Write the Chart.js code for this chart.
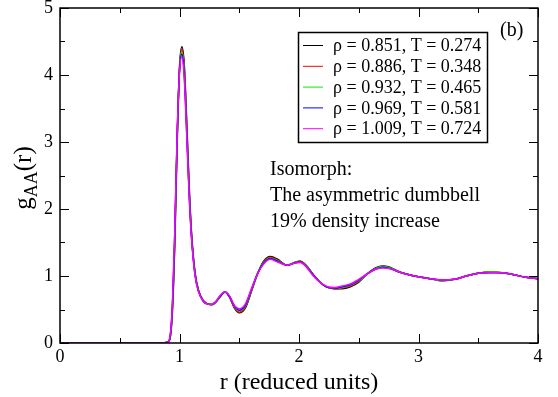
<!DOCTYPE html>
<html>
<head>
<meta charset="utf-8">
<script src="https://cdn.jsdelivr.net/npm/chart.js@4.4.0/dist/chart.umd.min.js"></script>
<style>
  html, body { margin: 0; padding: 0; background: #fff; }
  #wrap { width: 558px; height: 397px; }
</style>
</head>
<body>
<div id="wrap"><canvas id="gofr"></canvas></div>
<script>
// r grid shared by all state points
const rVals = [0, 0.85, 0.9, 0.92, 0.94, 0.96, 0.98, 1.0, 1.02, 1.04, 1.06, 1.08, 1.1, 1.13, 1.16, 1.2,
  1.24, 1.27, 1.3, 1.34, 1.38, 1.42, 1.46, 1.5, 1.55, 1.6, 1.65, 1.7, 1.76, 1.82, 1.9, 1.96, 2.01,
  2.06, 2.12, 2.18, 2.24, 2.3, 2.36, 2.43, 2.5, 2.57, 2.64, 2.7, 2.76, 2.84, 2.92, 3.0, 3.1, 3.2,
  3.3, 3.4, 3.5, 3.6, 3.7, 3.8, 3.9, 4.0];

const g851 = [0, 0, 0.01, 0.06, 0.45, 1.45, 2.95, 4.1, 4.42, 4.15, 3.32, 2.38, 1.66, 1.05, 0.78, 0.63,
  0.58, 0.57, 0.6, 0.69, 0.76, 0.68, 0.52, 0.45, 0.52, 0.76, 1.02, 1.21, 1.29, 1.25, 1.16, 1.2, 1.22,
  1.16, 1.02, 0.9, 0.83, 0.81, 0.81, 0.84, 0.91, 1.03, 1.12, 1.15, 1.13, 1.06, 1.02, 0.99, 0.96, 0.93,
  0.95, 1.0, 1.04, 1.06, 1.05, 1.02, 0.98, 0.96];
const g886 = [0, 0, 0.01, 0.07, 0.48, 1.5, 3.0, 4.1, 4.38, 4.1, 3.27, 2.34, 1.64, 1.04, 0.78, 0.63,
  0.58, 0.57, 0.6, 0.69, 0.76, 0.68, 0.53, 0.46, 0.53, 0.77, 1.02, 1.2, 1.28, 1.24, 1.16, 1.2, 1.22,
  1.15, 1.02, 0.9, 0.83, 0.81, 0.82, 0.85, 0.92, 1.03, 1.11, 1.14, 1.12, 1.06, 1.02, 0.99, 0.96, 0.93,
  0.95, 1.0, 1.04, 1.06, 1.05, 1.02, 0.98, 0.96];
const g932 = [0, 0, 0.01, 0.07, 0.5, 1.55, 3.03, 4.08, 4.34, 4.05, 3.22, 2.3, 1.62, 1.03, 0.77, 0.62,
  0.58, 0.57, 0.6, 0.7, 0.76, 0.69, 0.54, 0.48, 0.55, 0.78, 1.02, 1.19, 1.27, 1.23, 1.16, 1.2, 1.21,
  1.15, 1.01, 0.9, 0.83, 0.82, 0.83, 0.86, 0.93, 1.03, 1.11, 1.14, 1.12, 1.06, 1.02, 0.99, 0.96, 0.93,
  0.95, 1.0, 1.04, 1.06, 1.05, 1.02, 0.98, 0.96];
const g969 = [0, 0, 0.01, 0.08, 0.53, 1.6, 3.06, 4.06, 4.31, 4.0, 3.17, 2.27, 1.6, 1.02, 0.77, 0.62,
  0.58, 0.58, 0.61, 0.7, 0.76, 0.69, 0.55, 0.49, 0.56, 0.79, 1.02, 1.18, 1.26, 1.22, 1.16, 1.19, 1.21,
  1.14, 1.01, 0.9, 0.83, 0.82, 0.84, 0.87, 0.94, 1.03, 1.1, 1.13, 1.11, 1.06, 1.02, 0.99, 0.96, 0.94,
  0.95, 1.0, 1.04, 1.05, 1.05, 1.02, 0.98, 0.96];
const g1009 = [0, 0, 0.01, 0.09, 0.56, 1.65, 3.1, 4.05, 4.27, 3.95, 3.12, 2.24, 1.58, 1.01, 0.76, 0.62,
  0.58, 0.58, 0.61, 0.71, 0.76, 0.7, 0.56, 0.51, 0.58, 0.8, 1.02, 1.17, 1.25, 1.21, 1.16, 1.19, 1.2,
  1.14, 1.0, 0.9, 0.84, 0.83, 0.85, 0.88, 0.95, 1.03, 1.1, 1.12, 1.11, 1.06, 1.02, 0.99, 0.96, 0.94,
  0.95, 1.0, 1.04, 1.05, 1.05, 1.02, 0.98, 0.96];

const seriesLabels = ['ρ = 0.851, T = 0.274', 'ρ = 0.886, T = 0.348', 'ρ = 0.932, T = 0.465',
  'ρ = 0.969, T = 0.581', 'ρ = 1.009, T = 0.724'];
const seriesColors = ['#000000', '#ff0000', '#00ee00', '#0000ff', '#ff00ff'];
const seriesData = [g851, g886, g932, g969, g1009];

const xTicks = [0, 1, 2, 3, 4];
const yTicks = [0, 1, 2, 3, 4, 5];
const noteLines = ['Isomorph:', 'The asymmetric dumbbell', '19% density increase'];

const SERIF = '"Liberation Serif", "DejaVu Serif", serif';
Chart.defaults.font.family = SERIF;
Chart.defaults.color = '#000';

// frame with inward ticks on all four sides, like xmgrace
const framePlugin = {
  id: 'frame',
  afterDraw(chart) {
    const c = chart.ctx, a = chart.chartArea;
    const xs = chart.scales.x, ys = chart.scales.y;
    c.save();
    c.strokeStyle = '#000';
    c.lineWidth = 1.5;
    c.strokeRect(a.left, a.top, a.right - a.left, a.bottom - a.top);
    c.lineWidth = 1;
    for (let v = 0; v <= 4.001; v += 0.5) {
      const len = Number.isInteger(v) ? 9 : 5;
      const px = Math.round(xs.getPixelForValue(v)) + 0.5;
      c.beginPath();
      c.moveTo(px, a.bottom); c.lineTo(px, a.bottom - len);
      c.moveTo(px, a.top); c.lineTo(px, a.top + len);
      c.stroke();
    }
    for (let v = 0; v <= 5.001; v += 0.5) {
      const len = Number.isInteger(v) ? 9 : 5;
      const py = Math.round(ys.getPixelForValue(v)) + 0.5;
      c.beginPath();
      c.moveTo(a.left, py); c.lineTo(a.left + len, py);
      c.moveTo(a.right, py); c.lineTo(a.right - len, py);
      c.stroke();
    }
    c.restore();
  }
};

// legend box, notes, panel label and the y title with subscript
const textPlugin = {
  id: 'texts',
  afterDraw(chart) {
    const c = chart.ctx;
    c.save();
    // legend
    c.strokeStyle = '#000';
    c.lineWidth = 1.5;
    c.strokeRect(298.5, 32.5, 189, 110);
    c.font = '18px ' + SERIF;
    c.fillStyle = '#000';
    c.textBaseline = 'middle';
    seriesLabels.forEach((lab, i) => {
      const y = 45.5 + i * 20.8;
      c.strokeStyle = seriesColors[i];
      c.lineWidth = 1;
      c.beginPath();
      c.moveTo(303, y); c.lineTo(323, y);
      c.stroke();
      c.fillText(lab, 333, y + 1);
    });
    // notes
    c.textBaseline = 'alphabetic';
    c.font = '20px ' + SERIF;
    noteLines.forEach((t, i) => c.fillText(t, 270, 175 + i * 26));
    c.fillText('(b)', 500, 36);
    // y title g_AA(r)
    c.translate(31, 178);
    c.rotate(-Math.PI / 2);
    const big = '25px ' + SERIF, small = '18px ' + SERIF;
    c.font = big; const wg = c.measureText('g').width; const wr = c.measureText('(r)').width;
    c.font = small; const wa = c.measureText('AA').width;
    let x = -(wg + wa + wr) / 2;
    c.font = big; c.fillText('g', x, 0); x += wg;
    c.font = small; c.fillText('AA', x, 6); x += wa;
    c.font = big; c.fillText('(r)', x, 0);
    c.restore();
  }
};

const datasets = seriesData.map((ys, i) => ({
  label: seriesLabels[i],
  data: rVals.map((r, k) => ({ x: r, y: ys[k] })),
  borderColor: seriesColors[i],
  borderWidth: 1.5,
  pointRadius: 0,
  fill: false,
  cubicInterpolationMode: 'monotone',
  order: 5 - i
}));

new Chart(document.getElementById('gofr'), {
  type: 'line',
  data: { datasets },
  options: {
    responsive: true,
    maintainAspectRatio: false,
    animation: false,
    layout: { padding: { top: 8, right: 20, left: 0, bottom: 0 } },
    plugins: {
      legend: { display: false },
      tooltip: { enabled: false }
    },
    scales: {
      x: {
        type: 'linear',
        min: 0, max: 4,
        afterFit: (s) => { s.height = 54; s.paddingLeft = 0; s.paddingRight = 0; },
        afterBuildTicks: (s) => { s.ticks = xTicks.map(v => ({ value: v })); },
        grid: { display: false, drawTicks: false },
        border: { display: false },
        ticks: { color: '#000', font: { family: SERIF, size: 18 }, padding: 3, maxRotation: 0 },
        title: {
          display: true, text: 'r (reduced units)', color: '#000',
          font: { family: SERIF, size: 24 }, padding: { top: 0, bottom: 0 }
        }
      },
      y: {
        min: 0, max: 5,
        afterFit: (s) => { s.width = 60; s.paddingTop = 0; s.paddingBottom = 0; },
        afterBuildTicks: (s) => { s.ticks = yTicks.map(v => ({ value: v })); },
        grid: { display: false, drawTicks: false },
        border: { display: false },
        ticks: { color: '#000', font: { family: SERIF, size: 18 }, padding: 7 }
      }
    }
  },
  plugins: [framePlugin, textPlugin]
});
</script>
</body>
</html>
